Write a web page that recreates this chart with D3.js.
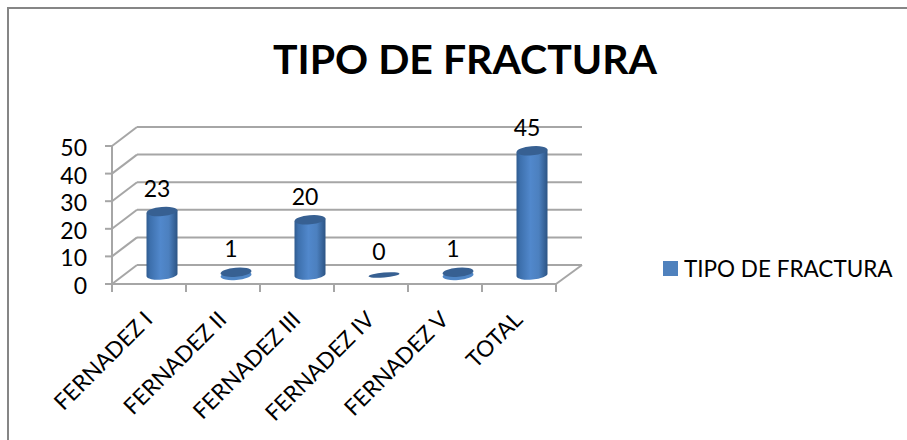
<!DOCTYPE html>
<html>
<head>
<meta charset="utf-8">
<script src="https://cdn.jsdelivr.net/npm/d3@7"></script>
<style>
	html, body { margin: 0; padding: 0; background: #fff; }
	svg { display: block; }
	text { font-family: Lato, "Open Sans", sans-serif; fill: #000; }
	.grid, .axis_line { stroke: #a6a6a6; stroke-width: 2; fill: none; }
	.frame { stroke: #868686; stroke-width: 2; }
</style>
</head>
<body>
<svg id="chart" width="907" height="440"></svg>
<script>
let categories = ['FERNADEZ I', 'FERNADEZ II', 'FERNADEZ III', 'FERNADEZ IV', 'FERNADEZ V', 'TOTAL'];
let values = [23, 1, 20, 0, 1, 45];
let y_ticks = [0, 10, 20, 30, 40, 50];
let chart_title = 'TIPO DE FRACTURA';
let series_name = 'TIPO DE FRACTURA';

let depth = {x: 25, y: -19};
let bar_rx = 15.5, bar_ry = 4.5, bar_tilt = -5;

let svg = d3.select('#chart');

let x = d3.scaleBand().domain(categories).range([112, 556]);
let y = d3.scaleLinear().domain([0, 50]).range([284, 146]);

// only the top and left edges of the frame show in the crop
svg.append('line').attr('class', 'frame')
	.attr('x1', 7).attr('x2', 907).attr('y1', 8).attr('y2', 8);
svg.append('line').attr('class', 'frame')
	.attr('x1', 8).attr('x2', 8).attr('y1', 8).attr('y2', 440);

svg.append('text')
	.attr('x', 465).attr('y', 74)
	.attr('text-anchor', 'middle')
	.style('font-size', '41px')
	.style('font-weight', 'bold')
	.text(chart_title);

let defs = svg.append('defs');
let side_grad = defs.append('linearGradient').attr('id', 'bar_side');
[['0%', '#2f5b8f'], ['12%', '#3d70ad'], ['45%', '#5188cc'], ['72%', '#4c80bf'], ['100%', '#2c5484']].forEach((d) => {
	side_grad.append('stop').attr('offset', d[0]).attr('stop-color', d[1]);
});

// gridlines: back wall plus the slanted side wall
let walls = svg.append('g');
y_ticks.forEach((t) => {
	walls.append('line').attr('class', 'grid')
		.attr('x1', x.range()[0] + depth.x).attr('x2', x.range()[1] + depth.x + 1)
		.attr('y1', y(t) + depth.y).attr('y2', y(t) + depth.y);
	walls.append('line').attr('class', 'grid')
		.attr('x1', x.range()[0]).attr('x2', x.range()[0] + depth.x)
		.attr('y1', y(t)).attr('y2', y(t) + depth.y);
	walls.append('line').attr('class', 'grid')
		.attr('x1', x.range()[0] - 7).attr('x2', x.range()[0])
		.attr('y1', y(t)).attr('y2', y(t));
	walls.append('text')
		.attr('x', 87).attr('y', y(t) + 10)
		.attr('text-anchor', 'end')
		.style('font-size', '23px')
		.text(t);
});

// floor and axes
walls.append('line').attr('class', 'axis_line')
	.attr('x1', x.range()[0]).attr('x2', x.range()[0])
	.attr('y1', y(50)).attr('y2', y(0) + 8);
walls.append('line').attr('class', 'axis_line')
	.attr('x1', x.range()[0]).attr('x2', x.range()[1])
	.attr('y1', y(0)).attr('y2', y(0));
walls.append('line').attr('class', 'axis_line')
	.attr('x1', x.range()[1]).attr('x2', x.range()[1] + depth.x + 1)
	.attr('y1', y(0)).attr('y2', y(0) + depth.y);
categories.forEach((c) => {
	walls.append('line').attr('class', 'axis_line')
		.attr('x1', x(c) + x.bandwidth()).attr('x2', x(c) + x.bandwidth())
		.attr('y1', y(0)).attr('y2', y(0) + 8);
});

let bar_x = (c) => x(c) + x.bandwidth() / 2 + 13;
let base_y = y(0) - 9;
let bar_h = (v) => y(0) - y(v);
let tilt_dy = bar_rx * Math.tan(-bar_tilt * Math.PI / 180);

let bars = svg.selectAll('.bar')
	.data(categories.map((c, i) => ({c: c, v: values[i]})))
	.enter()
	.append('g')
	.attr('class', 'bar')
	.attr('transform', d => `translate(${bar_x(d.c)}, ${base_y})`);

// bottom rim, lighter on the short bars
bars.filter(d => d.v > 0 && d.v < 5).append('ellipse')
	.attr('cy', 0.5)
	.attr('rx', bar_rx)
	.attr('ry', bar_ry)
	.attr('transform', `rotate(${bar_tilt})`)
	.attr('fill', '#4f86c6');

// cylinder body, skipped on a zero bar
bars.filter(d => d.v >= 5).append('path')
	.attr('d', (d) => {
		let h = bar_h(d.v);
		return `M${-bar_rx},${-h + tilt_dy} V${tilt_dy} A${bar_rx},${bar_ry} ${bar_tilt} 0 0 ${bar_rx},${-tilt_dy} V${-h - tilt_dy} Z`;
	})
	.attr('fill', 'url(#bar_side)');

// top cap
bars.append('ellipse')
	.attr('rx', bar_rx)
	.attr('ry', d => d.v > 0 ? bar_ry : 2.5)
	.attr('transform', d => `translate(0, ${-bar_h(d.v)}) rotate(${bar_tilt})`)
	.attr('fill', '#376092');

bars.append('text')
	.attr('x', -5)
	.attr('y', d => -bar_h(d.v) - 15)
	.attr('text-anchor', 'middle')
	.style('font-size', '23px')
	.text(d => d.v);

// rotated category labels, anchored at their upper right end
categories.forEach((c) => {
	svg.append('text')
		.attr('transform', `translate(${x(c) + x.bandwidth() / 2 + 5}, 321) rotate(-45)`)
		.attr('text-anchor', 'end')
		.style('font-size', '22.5px')
		.text(c);
});

// legend
svg.append('rect')
	.attr('x', 663).attr('y', 261)
	.attr('width', 15).attr('height', 15)
	.attr('fill', '#4f81bd');
svg.append('text')
	.attr('x', 684).attr('y', 277)
	.style('font-size', '22.5px')
	.text(series_name);
</script>
</body>
</html>
